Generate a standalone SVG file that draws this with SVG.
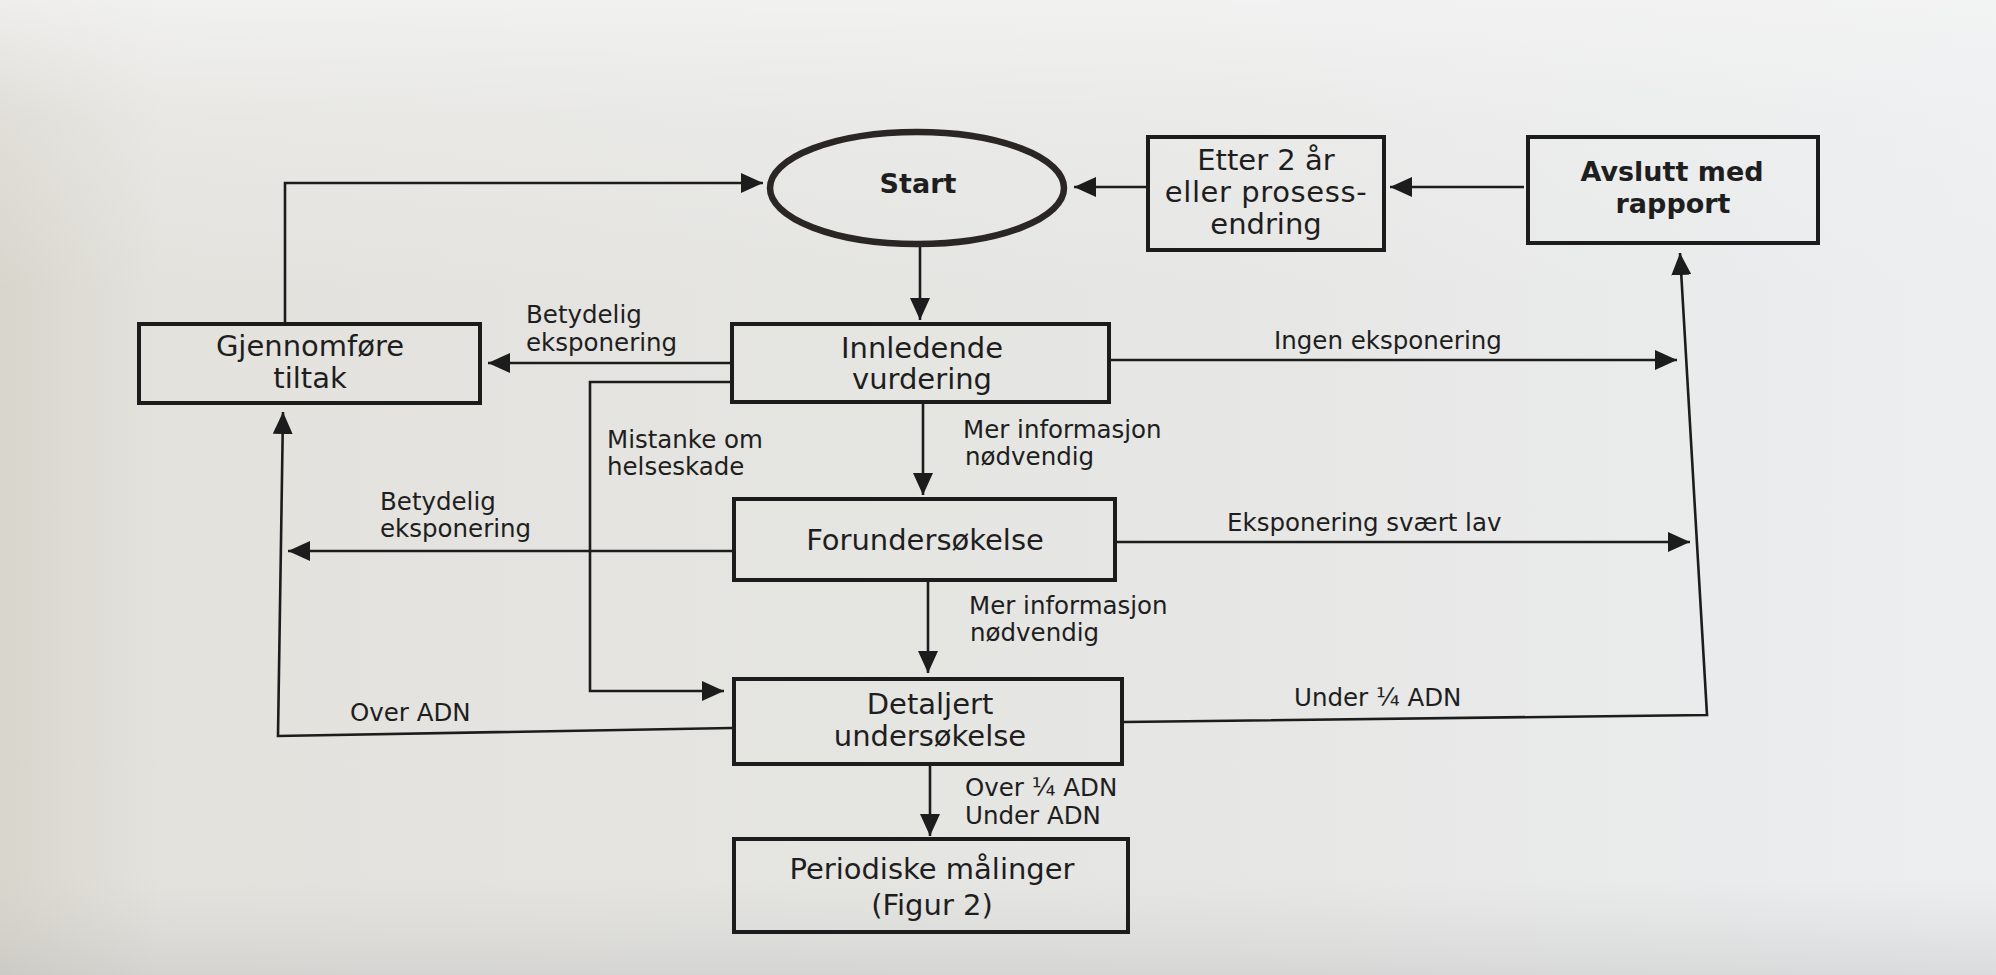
<svg xmlns="http://www.w3.org/2000/svg" width="1996" height="975" viewBox="0 0 1996 975">
  <defs>
    <linearGradient id="bgH" x1="0" y1="0" x2="1" y2="0">
      <stop offset="0" stop-color="#d8d5cc"/>
      <stop offset="0.08" stop-color="#e3e2dd"/>
      <stop offset="0.6" stop-color="#e6e6e4"/>
      <stop offset="1" stop-color="#eceef0"/>
    </linearGradient>
    <linearGradient id="bgV" x1="0" y1="0" x2="0" y2="1">
      <stop offset="0" stop-color="#f4f4f4" stop-opacity="0.8"/>
      <stop offset="0.12" stop-color="#f4f4f4" stop-opacity="0.3"/>
      <stop offset="0.3" stop-color="#f4f4f4" stop-opacity="0"/>
      <stop offset="0.9" stop-color="#c8c8c8" stop-opacity="0"/>
      <stop offset="1" stop-color="#b8b8b8" stop-opacity="0.35"/>
    </linearGradient>
    <marker id="arr" markerUnits="userSpaceOnUse" markerWidth="22" markerHeight="20" refX="22" refY="10" orient="auto">
      <path d="M0,0 L22,10 L0,20 z" fill="#1c1c1c"/>
    </marker>
  </defs>
  <style>
    .box { fill: none; stroke: #1c1c1c; stroke-width: 4; }
    .conn { fill: none; stroke: #1c1c1c; stroke-width: 2.6; marker-end: url(#arr); }
    .node { font-family: "DejaVu Sans", sans-serif; font-size: 29px; fill: #1e1e1e; text-anchor: middle; }
    .bold { font-weight: bold; font-size: 27px; }
    .lbl { font-family: "DejaVu Sans", sans-serif; font-size: 24.5px; fill: #1e1e1e; }
  </style>

  <rect x="0" y="0" width="1996" height="975" fill="url(#bgH)"/>
  <rect x="0" y="0" width="1996" height="975" fill="url(#bgV)"/>

  <g id="connectors">
    <path class="conn" d="M920,247 V320"/>
    <path class="conn" d="M730,363 H488"/>
    <path class="conn" d="M923,404 V495"/>
    <path class="conn" d="M1111,360 H1677"/>
    <path class="conn" d="M730,382 H590 V691 H724"/>
    <path class="conn" d="M732,551 H288"/>
    <path class="conn" d="M1117,542 H1690"/>
    <path class="conn" d="M928,582 V673"/>
    <path class="conn" d="M732,728 L278,736 L283,412"/>
    <path class="conn" d="M1124,722 L1707,715 L1680,253"/>
    <path class="conn" d="M930,766 V836"/>
    <path class="conn" d="M285,322 V183 H763"/>
    <path class="conn" d="M1148,187 H1074"/>
    <path class="conn" d="M1524,187 H1390"/>
  </g>

  <g id="start">
    <ellipse cx="917" cy="188" rx="147" ry="56" fill="none" stroke="#2a2624" stroke-width="6.5"/>
    <text class="node bold" x="918" y="193">Start</text>
  </g>
  <g id="etter">
    <rect class="box" x="1148" y="137" width="236" height="113" stroke-width="3.5"/>
    <text class="node" x="1266" y="170" font-size="28">Etter 2 år</text>
    <text class="node" x="1266" y="202" font-size="28" letter-spacing="0.6">eller prosess-</text>
    <text class="node" x="1266" y="234" font-size="28">endring</text>
  </g>
  <g id="avslutt">
    <rect class="box" x="1528" y="137" width="290" height="106" stroke-width="8"/>
    <text class="node bold" x="1672" y="181" font-size="26">Avslutt med</text>
    <text class="node bold" x="1673" y="213" font-size="26">rapport</text>
  </g>
  <g id="gjennomfore">
    <rect class="box" x="139" y="324" width="341" height="79"/>
    <text class="node" x="310" y="356" font-size="30">Gjennomføre</text>
    <text class="node" x="310" y="388" font-size="30">tiltak</text>
  </g>
  <g id="innledende">
    <rect class="box" x="732" y="324" width="377" height="78"/>
    <text class="node" x="922" y="358">Innledende</text>
    <text class="node" x="922" y="389">vurdering</text>
  </g>
  <g id="forundersokelse">
    <rect class="box" x="734" y="499" width="381" height="81"/>
    <text class="node" x="925" y="550">Forundersøkelse</text>
  </g>
  <g id="detaljert">
    <rect class="box" x="734" y="679" width="388" height="85"/>
    <text class="node" x="930" y="714">Detaljert</text>
    <text class="node" x="930" y="746">undersøkelse</text>
  </g>
  <g id="periodiske">
    <rect class="box" x="734" y="839" width="394" height="93" stroke-width="4.5"/>
    <text class="node" x="932" y="879" font-size="30">Periodiske målinger</text>
    <text class="node" x="932" y="915" font-size="25">(Figur 2)</text>
  </g>

  <g id="labels">
    <text class="lbl" x="526" y="323">Betydelig</text>
    <text class="lbl" x="526" y="351">eksponering</text>
    <text class="lbl" x="1274" y="349">Ingen eksponering</text>
    <text class="lbl" x="607" y="448">Mistanke om</text>
    <text class="lbl" x="607" y="475">helseskade</text>
    <text class="lbl" x="963" y="438">Mer informasjon</text>
    <text class="lbl" x="965" y="465">nødvendig</text>
    <text class="lbl" x="380" y="510">Betydelig</text>
    <text class="lbl" x="380" y="537">eksponering</text>
    <text class="lbl" x="1227" y="531">Eksponering svært lav</text>
    <text class="lbl" x="969" y="614">Mer informasjon</text>
    <text class="lbl" x="970" y="641">nødvendig</text>
    <text class="lbl" x="350" y="721">Over ADN</text>
    <text class="lbl" x="1294" y="706">Under ¼ ADN</text>
    <text class="lbl" x="965" y="796">Over ¼ ADN</text>
    <text class="lbl" x="965" y="824">Under ADN</text>
  </g>
</svg>
